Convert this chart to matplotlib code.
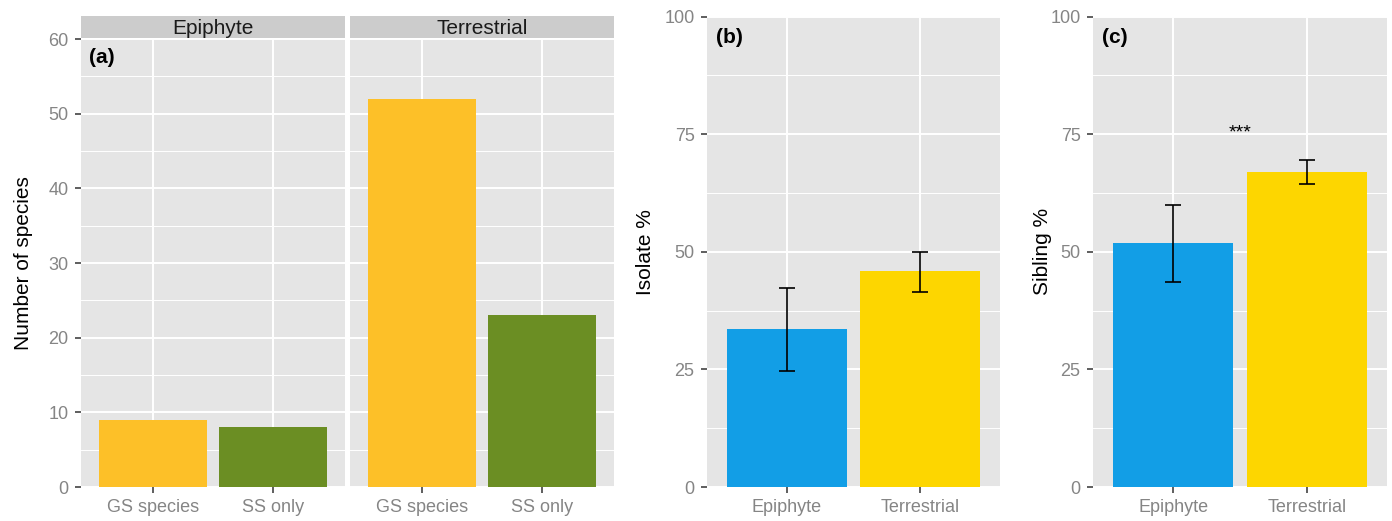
import numpy as np
import matplotlib
matplotlib.use("Agg")
import matplotlib.pyplot as plt
from matplotlib.ticker import MultipleLocator

plt.rcParams['font.family'] = ['Liberation Sans', 'DejaVu Sans']

# panel (a) counts
facets = ["Epiphyte", "Terrestrial"]
groups = ["GS species", "SS only"]
counts = {"Epiphyte": [9, 8], "Terrestrial": [52, 23]}
group_colors = ["#FDC028", "#6B8E23"]

# panels (b) and (c)
habits = ["Epiphyte", "Terrestrial"]
isolate_mean = [33.5, 45.9]
isolate_lo = [24.7, 41.5]
isolate_hi = [42.3, 49.9]
sibling_mean = [51.8, 67.0]
sibling_lo = [43.6, 64.3]
sibling_hi = [59.9, 69.6]
habit_colors = ["#129EE6", "#FDD600"]

W, H = 1392, 521
fig = plt.figure(figsize=(W / 100, H / 100), dpi=100)

PANEL_BG = "#E5E5E5"
TICK_COL = "#858585"


def px_axes(x0, y0, x1, y1):
    return fig.add_axes([x0 / W, 1 - y1 / H, (x1 - x0) / W, (y1 - y0) / H])


def style(ax, ymax, major, minor, show_y=True):
    ax.set_facecolor(PANEL_BG)
    for s in ax.spines.values():
        s.set_visible(False)
    ax.set_ylim(0, ymax)
    ax.set_xlim(-0.6, 1.6)
    ax.yaxis.set_major_locator(MultipleLocator(major))
    ax.yaxis.set_minor_locator(MultipleLocator(minor))
    ax.grid(which="major", color="white", lw=1.4)
    ax.grid(which="minor", axis="y", color="white", lw=0.7)
    ax.set_axisbelow(True)
    ax.tick_params(axis="both", which="major", length=4, width=1.1, color="#333333",
                   labelsize=13, labelcolor=TICK_COL, pad=5)
    ax.tick_params(axis="y", which="minor", length=0)
    if not show_y:
        ax.tick_params(axis="y", which="both", left=False, labelleft=False)


# panel (a): two facets
facet_px = [(81, 345), (350, 614)]
for i, (fac, (x0, x1)) in enumerate(zip(facets, facet_px)):
    ax = px_axes(x0, 39, x1, 487)
    x = np.arange(len(groups))
    ax.bar(x, counts[fac], width=0.9, color=group_colors, zorder=2)
    style(ax, 60, 10, 5, show_y=(i == 0))
    ax.set_xticks(x)
    ax.set_xticklabels(groups)
    if i == 0:
        ax.set_ylabel("Number of species", fontsize=15)
        ax.yaxis.set_label_coords(-0.182, 0.5)
        ax.text(0.03, 0.958, "(a)", transform=ax.transAxes, fontsize=15,
                fontweight="bold", va="center", ha="left")
    strip = px_axes(x0, 16, x1, 38.5)
    strip.set_facecolor("#CCCCCC")
    strip.set_xticks([])
    strip.set_yticks([])
    for s in strip.spines.values():
        s.set_visible(False)
    strip.text(0.5, 0.45, fac, transform=strip.transAxes, ha="center", va="center",
               fontsize=15, color="#1A1A1A")


def bar_panel(x0, x1, mean, lo, hi, label, tag, label_x, stars=None):
    ax = px_axes(x0, 16.5, x1, 487)
    x = np.arange(len(habits))
    ax.bar(x, mean, width=0.9, color=habit_colors, zorder=2)
    m = np.array(mean)
    err = [m - np.array(lo), np.array(hi) - m]
    ax.errorbar(x, mean, yerr=err, fmt="none", ecolor="black", elinewidth=1.2,
                capsize=5.5, capthick=1.2, zorder=3)
    style(ax, 100, 25, 12.5)
    ax.set_xticks(x)
    ax.set_xticklabels(habits)
    ax.set_ylabel(label, fontsize=15)
    ax.yaxis.set_label_coords(label_x, 0.5)
    ax.text(0.03, 0.955, tag, transform=ax.transAxes, fontsize=15,
            fontweight="bold", va="center", ha="left")
    if stars:
        ax.text(0.5, 75.3, stars, ha="center", va="center", fontsize=14)
    return ax


bar_panel(707, 1000, isolate_mean, isolate_lo, isolate_hi, "Isolate %", "(b)", -0.177)
bar_panel(1093, 1387, sibling_mean, sibling_lo, sibling_hi, "Sibling %", "(c)", -0.139, "***")

fig.savefig("out.png", dpi=100)
